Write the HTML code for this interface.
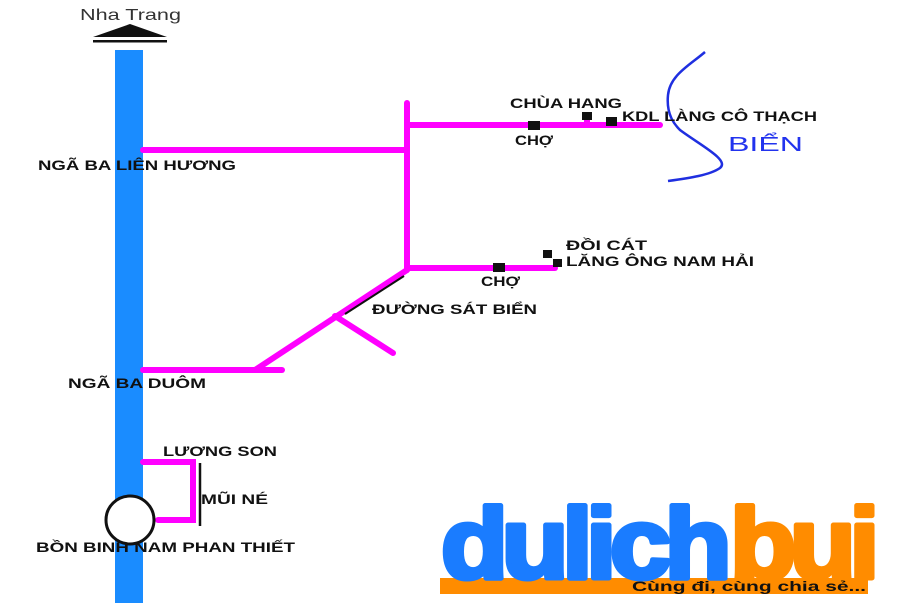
<!DOCTYPE html>
<html><head><meta charset="utf-8"><style>
html,body{margin:0;padding:0;background:#fff;}
svg{display:block}
text{font-family:"Liberation Sans",sans-serif;font-weight:bold;font-size:14px;fill:#111;}
</style></head><body>
<svg width="900" height="603" viewBox="0 0 900 603" xmlns="http://www.w3.org/2000/svg">
<rect width="900" height="603" fill="#fff"/>
<text x="80" y="20" style="font-weight:normal;font-size:16px;fill:#333" textLength="101" lengthAdjust="spacingAndGlyphs">Nha Trang</text>
<polygon points="93,37 130,24 167,37" fill="#111"/>
<rect x="93" y="40" width="74" height="2.5" fill="#111"/>
<rect x="115" y="50" width="28" height="553" fill="#1a8cff"/>
<g stroke="#ff00ff" stroke-width="6" fill="none" stroke-linecap="round">
<line x1="143" y1="150" x2="407" y2="150"/>
<line x1="407" y1="103" x2="407" y2="270"/>
<line x1="407" y1="125" x2="660" y2="125"/>
<line x1="407" y1="268" x2="555" y2="268"/>
<line x1="407" y1="270" x2="255" y2="370"/>
<line x1="143" y1="370" x2="282" y2="370"/>
<line x1="335" y1="316" x2="393" y2="353"/>
<line x1="587" y1="118" x2="587" y2="125"/>
<polyline points="143,462 193,462 193,520 158,520"/>
</g>
<line x1="345" y1="314" x2="404" y2="276" stroke="#111" stroke-width="2"/>
<line x1="200" y1="463" x2="200" y2="526" stroke="#111" stroke-width="2.5"/>
<circle cx="130" cy="520" r="24" fill="#fff" stroke="#111" stroke-width="3"/>
<g fill="#111">
<rect x="528" y="121" width="12" height="9"/>
<rect x="582" y="112" width="10" height="8"/>
<rect x="606" y="117" width="11" height="9"/>
<rect x="493" y="263" width="12" height="9"/>
<rect x="543" y="250" width="9" height="8"/>
<rect x="553" y="259" width="9" height="8"/>
</g>
<path d="M705,52 C690,65 670,75 668,95 C666,115 675,125 680,130 C700,145 730,160 720,168 C710,175 690,178 668,181" stroke="#1f2fe0" stroke-width="2.5" fill="none"/>
<text x="728" y="151" style="font-weight:normal;font-size:20px;fill:#2233ee" textLength="75" lengthAdjust="spacingAndGlyphs">BIỂN</text>
<text x="510" y="108" textLength="112" lengthAdjust="spacingAndGlyphs">CHÙA HANG</text>
<text x="622" y="121" textLength="195" lengthAdjust="spacingAndGlyphs">KDL LÀNG CÔ THẠCH</text>
<text x="515" y="145" textLength="38" lengthAdjust="spacingAndGlyphs">CHỢ</text>
<text x="38" y="170" textLength="198" lengthAdjust="spacingAndGlyphs">NGÃ BA LIÊN HƯƠNG</text>
<text x="566" y="250" textLength="81" lengthAdjust="spacingAndGlyphs">ĐỒI CÁT</text>
<text x="566" y="266" textLength="188" lengthAdjust="spacingAndGlyphs">LĂNG ÔNG NAM HẢI</text>
<text x="481" y="286" textLength="39" lengthAdjust="spacingAndGlyphs">CHỢ</text>
<text x="372" y="314" textLength="165" lengthAdjust="spacingAndGlyphs">ĐƯỜNG SÁT BIỂN</text>
<text x="68" y="388" textLength="138" lengthAdjust="spacingAndGlyphs">NGÃ BA DUÔM</text>
<text x="163" y="456" textLength="114" lengthAdjust="spacingAndGlyphs">LƯƠNG SON</text>
<text x="201" y="504" textLength="67" lengthAdjust="spacingAndGlyphs">MŨI NÉ</text>
<text x="36" y="552" textLength="259" lengthAdjust="spacingAndGlyphs">BỒN BINH NAM PHAN THIẾT</text>
<rect x="440" y="578" width="428" height="16" fill="#ff8c00"/>
<text x="441" y="578" style="font-size:100px;fill:#1a7cff;stroke:#1a7cff;stroke-width:5;stroke-linejoin:round;letter-spacing:-6px" textLength="284" lengthAdjust="spacingAndGlyphs">dulich</text>
<text x="730" y="578" style="font-size:100px;fill:#ff8c00;stroke:#ff8c00;stroke-width:5;stroke-linejoin:round;letter-spacing:-6px" textLength="143" lengthAdjust="spacingAndGlyphs">bui</text>
<text x="632" y="591" style="font-size:14px;fill:#111" textLength="234" lengthAdjust="spacingAndGlyphs">Cùng đi, cùng chia sẻ...</text>
</svg>
</body></html>
